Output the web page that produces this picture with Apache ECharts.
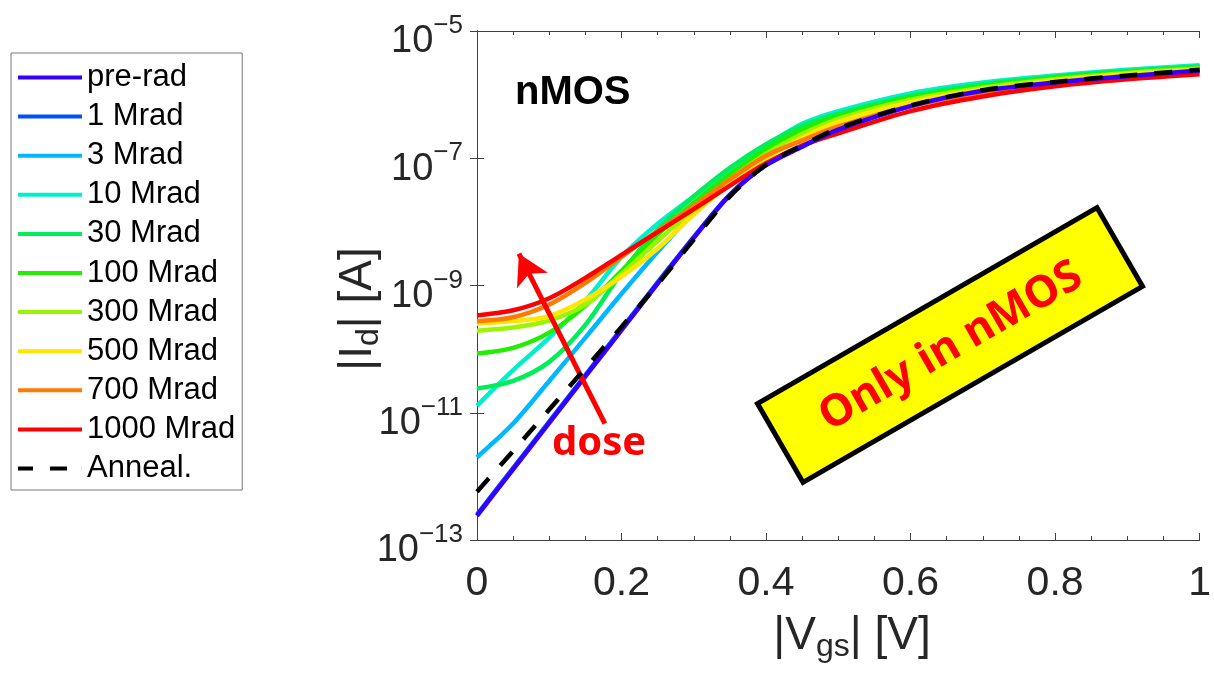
<!DOCTYPE html>
<html>
<head>
<meta charset="utf-8">
<script src="https://cdn.jsdelivr.net/npm/echarts@6/dist/echarts.min.js"></script>
<style>
html,body{margin:0;padding:0;background:#fff;}
#chart{width:1214px;height:678px;}
</style>
</head>
<body>
<div id="chart"></div>
<script>
// |Vgs| sample points [V]
const vgs = [0, 0.05, 0.1, 0.15, 0.2, 0.25, 0.3, 0.35, 0.4, 0.45, 0.5, 0.6, 0.7, 0.8, 0.9, 1.0];
// log10(|Id| [A])
const preRad  = [-12.62,-11.89,-11.16,-10.43,-9.70,-8.97,-8.25,-7.58,-7.11,-6.82,-6.55,-6.18,-5.94,-5.81,-5.71,-5.62];
const mrad1   = [-12.60,-11.87,-11.14,-10.41,-9.68,-8.95,-8.24,-7.57,-7.10,-6.81,-6.55,-6.18,-5.94,-5.81,-5.71,-5.62];
const mrad3   = [-11.70,-11.17,-10.50,-9.82,-9.13,-8.47,-7.85,-7.32,-6.90,-6.57,-6.34,-6.04,-5.86,-5.73,-5.63,-5.56];
const mrad10  = [-10.89,-10.33,-9.82,-9.24,-8.55,-8.03,-7.60,-7.18,-6.80,-6.46,-6.26,-5.98,-5.81,-5.70,-5.61,-5.54];
const mrad30  = [-10.62,-10.50,-10.20,-9.62,-8.80,-8.12,-7.60,-7.15,-6.78,-6.49,-6.30,-6.02,-5.84,-5.72,-5.63,-5.56];
const mrad100 = [-10.07,-9.98,-9.74,-9.32,-8.77,-8.20,-7.70,-7.25,-6.86,-6.55,-6.34,-6.05,-5.87,-5.74,-5.65,-5.57];
const mrad300 = [-9.71,-9.66,-9.55,-9.30,-8.82,-8.30,-7.80,-7.33,-6.93,-6.62,-6.38,-6.08,-5.89,-5.76,-5.66,-5.59];
const mrad500 = [-9.60,-9.56,-9.48,-9.22,-8.86,-8.42,-7.88,-7.40,-7.00,-6.68,-6.43,-6.12,-5.92,-5.78,-5.68,-5.61];
const mrad700 = [-9.56,-9.50,-9.30,-8.96,-8.55,-8.14,-7.75,-7.33,-6.96,-6.72,-6.50,-6.18,-5.97,-5.82,-5.72,-5.64];
const mrad1000= [-9.47,-9.39,-9.20,-8.88,-8.52,-8.16,-7.80,-7.43,-7.08,-6.80,-6.61,-6.26,-6.03,-5.87,-5.76,-5.68];
const anneal  = [-12.24,-11.60,-10.95,-10.30,-9.65,-8.98,-8.28,-7.60,-7.10,-6.80,-6.53,-6.17,-5.93,-5.80,-5.70,-5.61];

const seriesNames = ['pre-rad','1 Mrad','3 Mrad','10 Mrad','30 Mrad','100 Mrad','300 Mrad','500 Mrad','700 Mrad','1000 Mrad','Anneal.'];
const seriesLogs  = [preRad, mrad1, mrad3, mrad10, mrad30, mrad100, mrad300, mrad500, mrad700, mrad1000, anneal];
const seriesColors = ['#3300ff','#0050ff','#00b8ff','#00f0cc','#00ee5a','#22ee00','#99f500','#ffe600','#ff7a00','#ff0000','#000000'];
const xTicks = [0, 0.2, 0.4, 0.6, 0.8, 1];

// arrow annotation (data coords: |Vgs|, log10 Id)
const arrowFrom = [0.177, -11.17];
const arrowTo   = [0.058, -8.50];

const FONT = 'Liberation Sans, Arial, sans-serif';
const chart = echarts.init(document.getElementById('chart'), null, {renderer:'canvas'});

const series = seriesNames.map((name, k) => {
  const s = {
    name: name,
    type: 'line',
    symbol: 'none',
    smooth: 0.3,
    z: name === 'pre-rad' ? 3 : (name === 'Anneal.' ? 5 : 2),
    color: seriesColors[k],
    itemStyle: {color: seriesColors[k]},
    lineStyle: {color: seriesColors[k], width: 4.5, type: name === 'Anneal.' ? [18, 17] : 'solid', cap: 'butt'},
    data: vgs.map((v, i) => [v, Math.pow(10, seriesLogs[k][i])])
  };
  if (name === '1000 Mrad') {
    s.markLine = {
      silent: true,
      symbol: ['none', 'arrow'],
      symbolSize: [26, 30],
      label: {show: false},
      lineStyle: {color: '#ff0000', width: 5, type: 'solid'},
      data: [[{coord: [arrowFrom[0], Math.pow(10, arrowFrom[1])]}, {coord: [arrowTo[0], Math.pow(10, arrowTo[1])]}]]
    };
  }
  return s;
});

const axisColor = '#404040';
const option = {
  animation: false,
  backgroundColor: '#ffffff',
  grid: {left: 477, right: 6, top: 31, bottom: 138, containLabel: false},
  legend: {
    orient: 'vertical', left: 11, top: 53,
    padding: [9, 7, 6, 7],
    icon: 'rect',
    itemWidth: 64, itemHeight: 4, itemGap: 8.1,
    data: seriesNames.map(n => n === 'Anneal.'
      ? {name: n, icon: 'path://M0,0H15V4H0Z M32,0H49V4H32Z M63.9,0H64V4H63.9Z'}
      : {name: n}),
    borderColor: '#777', borderWidth: 1, backgroundColor: '#fff',
    textStyle: {fontSize: 31, fontFamily: FONT, color: '#000', lineHeight: 30}
  },
  xAxis: [{
    type: 'value', min: 0, max: 1, interval: 0.2,
    axisLine: {lineStyle: {color: axisColor, width: 1}},
    axisTick: {inside: true, length: 7, lineStyle: {color: axisColor}},
    minorTick: {show: true, splitNumber: 4, length: 4, lineStyle: {color: axisColor}},
    splitLine: {show: false},
    axisLabel: {fontSize: 41, fontFamily: FONT, color: '#262626', margin: 23,
      formatter: v => (xTicks.indexOf(Math.round(v*10)/10) >= 0 ? String(Math.round(v*10)/10) : '')}
  }, {
    type: 'value', min: 0, max: 1, interval: 0.2, position: 'top',
    axisLine: {show: true, lineStyle: {color: axisColor, width: 1}},
    axisTick: {show: true, inside: true, length: 7, lineStyle: {color: axisColor}},
    minorTick: {show: true, splitNumber: 4, length: 4, lineStyle: {color: axisColor}},
    splitLine: {show: false}, axisLabel: {show: false}
  }],
  yAxis: [{
    type: 'log', logBase: 10, min: 1e-13, max: 1e-5, interval: 2,
    axisLine: {show: true, lineStyle: {color: axisColor, width: 1}},
    axisTick: {show: true, inside: true, length: 7, lineStyle: {color: axisColor}},
    splitLine: {show: false},
    axisLabel: {
      margin: 14, padding: [22, 0, 0, 0],
      formatter: v => '{b|10}{s|\u2212' + Math.abs(Math.round(Math.log10(v))) + '}',
      rich: {
        b: {fontSize: 38, fontFamily: FONT, color: '#262626', verticalAlign: 'bottom', lineHeight: 38},
        s: {fontSize: 26, fontFamily: FONT, color: '#262626', verticalAlign: 'bottom', lineHeight: 26, padding: [0, 0, 22, 0]}
      }
    }
  }, {
    type: 'log', logBase: 10, min: 1e-13, max: 1e-5, interval: 2, position: 'right',
    axisLine: {show: true, lineStyle: {color: axisColor, width: 1}},
    axisTick: {show: true, inside: true, length: 7, lineStyle: {color: axisColor}},
    splitLine: {show: false}, axisLabel: {show: false}
  }],
  graphic: [
    {type: 'text', left: 515, top: 73, z: 10,
      style: {text: 'nMOS', font: 'bold 40px ' + FONT, fill: '#000'}},
    {type: 'text', z: 10, x: 599, y: 444,
      style: {text: 'dose', font: 'bold 40px "Noto Sans", "Open Sans", sans-serif', fill: '#ff0000', align: 'center', verticalAlign: 'middle'}},
    {type: 'group', x: 950, y: 345, rotation: Math.PI/6, z: 10, children: [
      {type: 'rect', shape: {x: -196, y: -45.5, width: 392, height: 91},
        style: {fill: '#ffff00', stroke: '#000', lineWidth: 5}},
      {type: 'text', x: 0, y: 2,
        style: {text: 'Only in nMOS', font: 'bold 44px "Noto Sans", "Open Sans", sans-serif', fill: '#ff0000', align: 'center', verticalAlign: 'middle'}}
    ]},
    {type: 'text', z: 10, x: 852, y: 636,
      style: {
        text: '{b|\u007CV}{sub|gs}{b|\u007C [V]}',
        align: 'center', verticalAlign: 'middle',
        rich: {
          b: {font: '46px ' + FONT, fill: '#262626', verticalAlign: 'top', lineHeight: 46},
          sub: {font: '32px ' + FONT, fill: '#262626', verticalAlign: 'top', lineHeight: 32, padding: [18, 0, 0, 0]}
        }
      }},
    {type: 'text', z: 10, x: 358, y: 309, rotation: Math.PI/2,
      style: {
        text: '{b|\u007CI}{sub|d}{b|\u007C [A]}',
        align: 'center', verticalAlign: 'middle',
        rich: {
          b: {font: '46px ' + FONT, fill: '#262626', verticalAlign: 'top', lineHeight: 46},
          sub: {font: '32px ' + FONT, fill: '#262626', verticalAlign: 'top', lineHeight: 32, padding: [18, 0, 0, 0]}
        }
      }}
  ],
  series: series
};
chart.setOption(option);
</script>
</body>
</html>
